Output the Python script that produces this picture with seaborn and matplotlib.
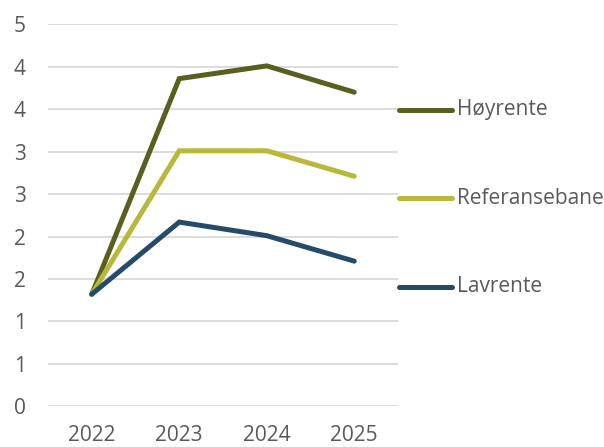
import matplotlib
matplotlib.use("Agg")
import matplotlib.pyplot as plt
import seaborn as sns
import pandas as pd
import numpy as np
from matplotlib.lines import Line2D

years = ["2022", "2023", "2024", "2025"]
hoyrente = [1.32, 3.86, 4.01, 3.70]
referanse = [1.32, 3.01, 3.01, 2.71]
lavrente = [1.32, 2.17, 2.01, 1.71]
series_names = ["Høyrente", "Referansebane", "Lavrente"]
y_ticks = [0, 0.5, 1, 1.5, 2, 2.5, 3, 3.5, 4, 4.5]
y_tick_labels = ["0", "1", "1", "2", "2", "3", "3", "4", "4", "5"]

colors = ["#5a5e1f", "#b9b83b", "#264a69"]

sns.set_theme(style="white")
plt.rcParams['font.family'] = ['Open Sans', 'DejaVu Sans']

rows = []
for name, vals in zip(series_names, [hoyrente, referanse, lavrente]):
    for i, v in enumerate(vals):
        rows.append({"x": i, "year": years[i], "value": v, "serie": name})
df = pd.DataFrame(rows)

fig = plt.figure(figsize=(6.04, 4.47), dpi=100)
W, H = 604, 447
left, right, top, bottom = 48, 398, 24.3, 406.3
ax = fig.add_axes([left / W, 1 - bottom / H, (right - left) / W, (bottom - top) / H])

sns.lineplot(data=df, x="x", y="value", hue="serie", hue_order=series_names,
             palette=colors, linewidth=3.6, ax=ax, legend=False,
             solid_capstyle="round", solid_joinstyle="miter")

ax.set_xlim(-0.5, 3.5)
ax.set_ylim(0, 4.5)
ax.set_yticks(y_ticks)
ax.set_yticklabels(y_tick_labels)
ax.set_xticks(range(len(years)))
ax.set_xticklabels(years)
ax.grid(axis="y", color="#d9d9d9", linewidth=1.3)
ax.set_axisbelow(True)
for s in ax.spines.values():
    s.set_visible(False)
ax.tick_params(axis="both", length=0, labelsize=15, colors="#595959")
ax.tick_params(axis="y", pad=16)
ax.tick_params(axis="x", pad=13.5)
ax.set_xlabel("")
ax.set_ylabel("")

# legend
leg_y = [110, 198, 287]
for name, c, yy in zip(series_names, colors, leg_y):
    fy = 1 - yy / H
    fig.add_artist(Line2D([399 / W, 452 / W], [fy, fy], color=c, linewidth=3.6,
                          solid_capstyle="round", transform=fig.transFigure))
    fig.text(457 / W, fy, name, fontsize=15, color="#595959", va="center", ha="left")

fig.savefig("out.png", dpi=100)
